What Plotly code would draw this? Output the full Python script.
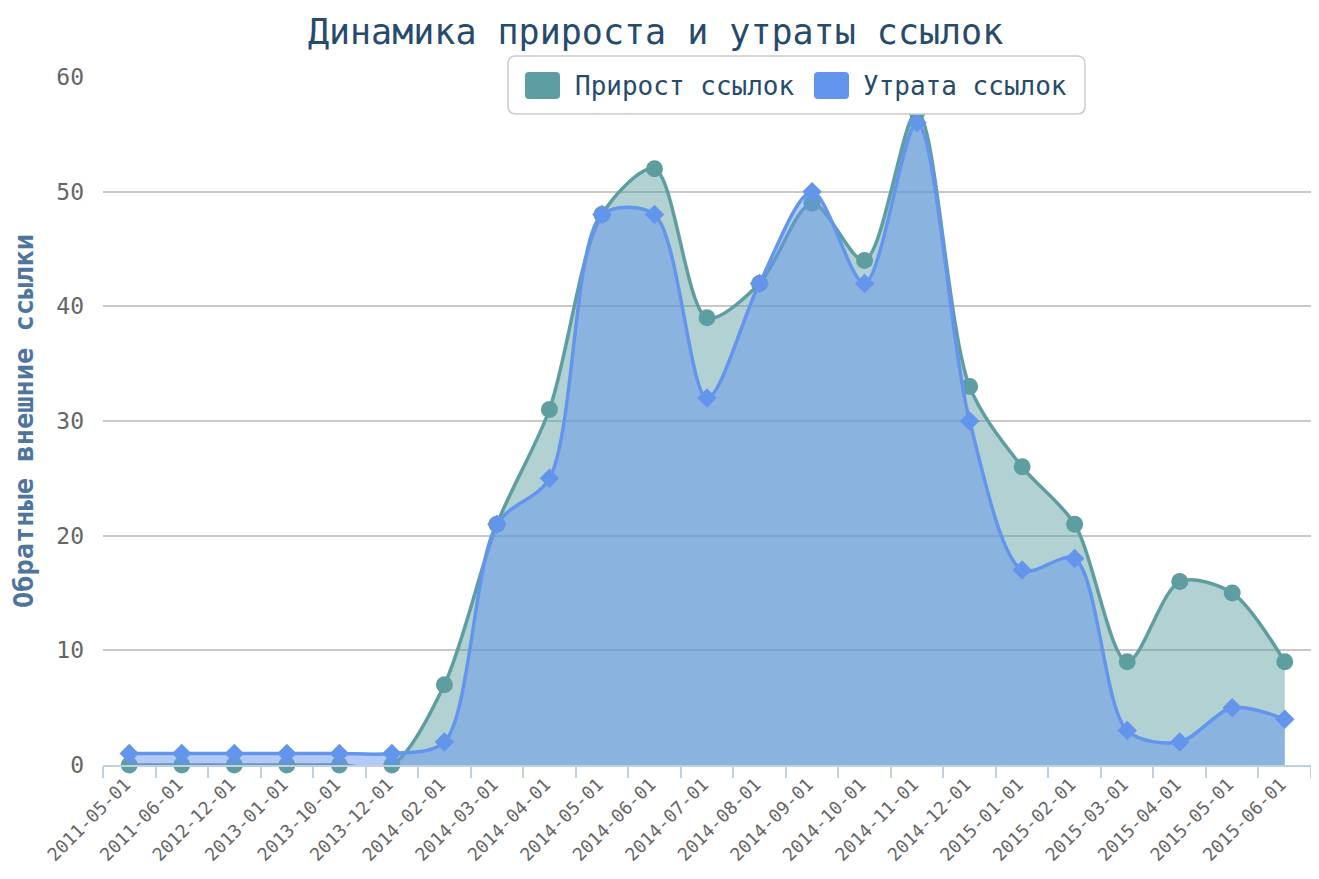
import plotly.graph_objects as go

categories = ["2011-05-01", "2011-06-01", "2012-12-01", "2013-01-01", "2013-10-01", "2013-12-01",
              "2014-02-01", "2014-03-01", "2014-04-01", "2014-05-01", "2014-06-01", "2014-07-01",
              "2014-08-01", "2014-09-01", "2014-10-01", "2014-11-01", "2014-12-01", "2015-01-01",
              "2015-02-01", "2015-03-01", "2015-04-01", "2015-05-01", "2015-06-01"]
growth = [0, 0, 0, 0, 0, 0, 7, 21, 31, 48, 52, 39, 42, 49, 44, 57, 33, 26, 21, 9, 16, 15, 9]
loss = [1, 1, 1, 1, 1, 1, 2, 21, 25, 48, 48, 32, 42, 50, 42, 56, 30, 17, 18, 3, 2, 5, 4]
series_names = ["Прирост ссылок", "Утрата ссылок"]

FONT = "DejaVu Sans Mono"
C_GROWTH = "#5F9EA0"
C_LOSS = "#6495ED"
TXT = "#274b6d"

# figure geometry (page has an 8px body margin)
W, H = 1303, 863
ML, MR, MT, MB = 95, 0, 69, 106
OFF = 8
PL, PR = OFF + ML, OFF + W - MR
PT, PB = OFF + MT, OFF + H - MB


def px(x):
    return (x - PL) / (PR - PL)


def py(y):
    return (PB - y) / (PB - PT)


def rounded_rect(x0, y0, x1, y1, r):
    a, b, c, d = px(x0), px(x1), py(y0), py(y1)
    rx = r / (PR - PL)
    ry = r / (PB - PT)
    return (f"M{a + rx},{c} L{b - rx},{c} Q{b},{c} {b},{c - ry} L{b},{d + ry} Q{b},{d} {b - rx},{d} "
            f"L{a + rx},{d} Q{a},{d} {a},{d + ry} L{a},{c - ry} Q{a},{c} {a + rx},{c} Z")


fig = go.Figure()
fig.add_trace(go.Scatter(
    x=categories, y=growth, name=series_names[0], mode="lines+markers",
    line=dict(color=C_GROWTH, width=3.5, shape="spline", smoothing=0.85),
    marker=dict(symbol="circle", size=17, color=C_GROWTH),
    fill="tozeroy", fillcolor="rgba(95,158,160,0.48)", cliponaxis=False))
fig.add_trace(go.Scatter(
    x=categories, y=loss, name=series_names[1], mode="lines+markers",
    line=dict(color=C_LOSS, width=3.5, shape="spline", smoothing=0.85),
    marker=dict(symbol="diamond", size=15, color=C_LOSS),
    fill="tozeroy", fillcolor="rgba(100,149,237,0.5)", cliponaxis=False))

# legend drawn as shapes + text (rounded box and rounded squares)
shapes = [dict(type="path", xref="paper", yref="paper", layer="above",
               path=rounded_rect(508, 56, 1085, 114, 8),
               fillcolor="white", line=dict(color="#CCCCCC", width=1.5))]
annotations = []
for name, col, sx, tx in [(series_names[0], C_GROWTH, 525, 573), (series_names[1], C_LOSS, 814, 861)]:
    shapes.append(dict(type="path", xref="paper", yref="paper", layer="above",
                       path=rounded_rect(sx, 72, sx + 35, 99, 4),
                       fillcolor=col, line=dict(width=0)))
    annotations.append(dict(text=name, xref="paper", yref="paper", x=px(tx), y=py(86.5),
                            xanchor="left", yanchor="middle", showarrow=False,
                            font=dict(family=FONT, size=26, color=TXT)))

fig.update_layout(
    width=W, height=H,
    margin=dict(l=ML, r=MR, t=MT, b=MB, autoexpand=False),
    paper_bgcolor="white", plot_bgcolor="white",
    font=dict(family=FONT, color="#666666"),
    title=dict(text="Динамика прироста и утраты ссылок", x=0.497, xref="container", xanchor="center",
               y=0.972, yref="container", yanchor="middle",
               font=dict(family=FONT, size=35, color=TXT)),
    showlegend=False,
    shapes=shapes,
    annotations=annotations,
)
fig.update_xaxes(
    type="category", range=[-0.5, len(categories) - 0.5], automargin=False,
    tickson="boundaries", ticks="outside", ticklen=11, tickcolor="#C0D0E0", tickwidth=1.5,
    showline=True, linecolor="#C0D0E0", linewidth=1.5, showgrid=False,
    tickangle=-45, ticklabelstandoff=0, ticklabelshift=-4,
    tickfont=dict(family=FONT, size=18, color="#666666"),
)
fig.update_yaxes(
    range=[0, 60], dtick=10, showgrid=True, gridcolor="#C8C8C8", gridwidth=1.5, automargin=False,
    zeroline=False, showline=False, ticks="", ticklabelstandoff=18,
    tickfont=dict(family=FONT, size=23, color="#666666"),
    title=dict(text="<b>Обратные внешние ссылки</b>", font=dict(family=FONT, size=27, color="#4d759e"),
               standoff=16),
)
fig.write_html("out.html")
